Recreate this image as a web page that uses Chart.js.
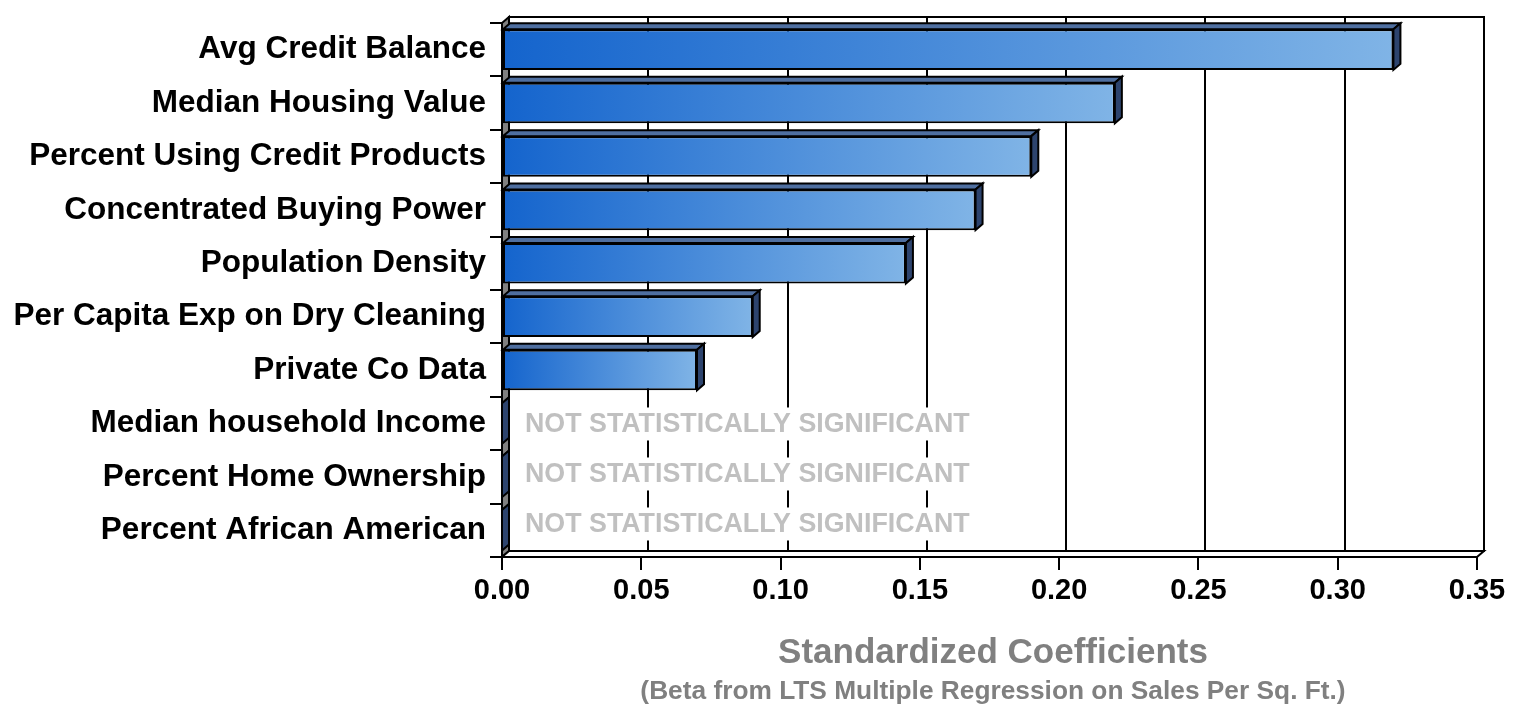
<!DOCTYPE html>
<html>
<head>
<meta charset="utf-8">
<script src="https://cdn.jsdelivr.net/npm/chart.js@4.4.1/dist/chart.umd.min.js"></script>
<style>
  html, body { margin: 0; padding: 0; background: #fff; overflow: hidden; }
  #wrap { width: 1513px; height: 705px; }
</style>
</head>
<body>
<div id="wrap"><canvas id="chart" width="1513" height="705"></canvas></div>
<script>
// Drivers of sales per square foot, ranked by standardized coefficient
const categories = [
  'Avg Credit Balance',
  'Median Housing Value',
  'Percent Using Credit Products',
  'Concentrated Buying Power',
  'Population Density',
  'Per Capita Exp on Dry Cleaning',
  'Private Co Data',
  'Median household Income',
  'Percent Home Ownership',
  'Percent African American'
];
const coefficients = [0.32, 0.22, 0.19, 0.17, 0.145, 0.09, 0.07, 0, 0, 0];
const significant = [true, true, true, true, true, true, true, false, false, false];
const xTickValues = [0, 0.05, 0.10, 0.15, 0.20, 0.25, 0.30, 0.35];
const noteText = 'NOT STATISTICALLY SIGNIFICANT';
const axisTitle = 'Standardized Coefficients';
const axisSubtitle = '(Beta from LTS Multiple Regression on Sales Per Sq. Ft.)';

const FONT = '"Liberation Sans", Arial, sans-serif';
const DX = 7, DY = -6;          // depth offset of the 3D box
const BAR_DARK = '#1464cd', BAR_LIGHT = '#80b4e6';
const TOP_FACE = '#4f6fa0', SIDE_FACE = '#2d446e', WALL_GRAY = '#808080';
const NOTE_SPACING = 50;        // line spacing of the stacked notes

function poly(ctx, pts, fill, stroke, lw) {
  ctx.beginPath();
  ctx.moveTo(pts[0][0], pts[0][1]);
  for (let i = 1; i < pts.length; i++) ctx.lineTo(pts[i][0], pts[i][1]);
  ctx.closePath();
  if (fill) { ctx.fillStyle = fill; ctx.fill(); }
  if (stroke) { ctx.strokeStyle = stroke; ctx.lineWidth = lw || 2; ctx.lineJoin = 'miter'; ctx.stroke(); }
}

// Back wall, left wall, floor and gridlines of the 3D frame
const framePlugin = {
  id: 'frame3d',
  beforeDraw(chart) {
    const { ctx, chartArea: a, scales } = chart;
    ctx.save();
    ctx.fillStyle = '#fff';
    ctx.fillRect(0, 0, chart.width, chart.height);
    // back wall
    poly(ctx, [[a.left + DX, a.top + DY], [a.right + DX, a.top + DY],
               [a.right + DX, a.bottom + DY], [a.left + DX, a.bottom + DY]], '#fff', null);
    // gridlines on back wall
    ctx.strokeStyle = '#000';
    ctx.lineWidth = 2;
    xTickValues.forEach(v => {
      const px = Math.round(scales.x.getPixelForValue(v)) + DX;
      ctx.beginPath();
      ctx.moveTo(px, a.top + DY);
      ctx.lineTo(px, a.bottom + DY);
      ctx.stroke();
    });
    poly(ctx, [[a.left + DX, a.top + DY], [a.right + DX, a.top + DY],
               [a.right + DX, a.bottom + DY], [a.left + DX, a.bottom + DY]], null, '#000', 2);
    // left wall
    poly(ctx, [[a.left, a.top], [a.left + DX, a.top + DY],
               [a.left + DX, a.bottom + DY], [a.left, a.bottom]], WALL_GRAY, '#000', 2);
    // floor
    poly(ctx, [[a.left, a.bottom], [a.left + DX, a.bottom + DY],
               [a.right + DX, a.bottom + DY], [a.right, a.bottom]], '#fff', '#000', 2);
    ctx.restore();
  },
  afterDatasetsDraw(chart) {
    const { ctx, chartArea: a, scales } = chart;
    const meta = chart.getDatasetMeta(0);
    ctx.save();
    // top and end faces of each bar
    meta.data.forEach(el => {
      const { x, y, base, height } = el.getProps(['x', 'y', 'base', 'height'], true);
      const t = y - height / 2, b = y + height / 2;
      poly(ctx, [[base, t], [base + DX, t + DY], [x + DX, t + DY], [x, t]], TOP_FACE, '#000', 2);
      poly(ctx, [[x, t], [x + DX, t + DY], [x + DX, b + DY], [x, b]], SIDE_FACE, '#000', 2);
    });
    // notes for the variables that did not enter the model, stacked from the first one
    ctx.font = 'bold 26.8px ' + FONT;
    ctx.textBaseline = 'middle';
    ctx.textAlign = 'left';
    const tx = a.left + 23;
    const first = significant.indexOf(false);
    const y0 = first >= 0 ? scales.y.getPixelForValue(first) : 0;
    let k = 0;
    categories.forEach((c, i) => {
      if (significant[i]) return;
      const cy = y0 + k * NOTE_SPACING;
      k++;
      const w = ctx.measureText(noteText).width;
      ctx.fillStyle = '#fff';
      ctx.fillRect(tx - 6, cy - 16, w + 12, 33);
      ctx.fillStyle = '#c0c0c0';
      ctx.fillText(noteText, tx, cy + 1);
    });
    ctx.restore();
  },
  afterDraw(chart) {
    const { ctx, chartArea: a } = chart;
    const cx = (a.left + a.right) / 2 + DX / 2;
    ctx.save();
    ctx.fillStyle = '#808080';
    ctx.textAlign = 'center';
    ctx.textBaseline = 'alphabetic';
    ctx.font = 'bold 35px ' + FONT;
    ctx.fillText(axisTitle, cx, a.bottom + 106);
    ctx.font = 'bold 26.3px ' + FONT;
    ctx.fillText(axisSubtitle, cx, a.bottom + 142);
    ctx.restore();
  }
};

function barGradient(c) {
  const chart = c.chart;
  const xs = chart.scales && chart.scales.x;
  if (!xs || c.type !== 'data') return BAR_DARK;
  const x0 = xs.getPixelForValue(0);
  const x1 = xs.getPixelForValue(c.raw);
  if (!isFinite(x0) || !isFinite(x1) || x1 - x0 < 1) return BAR_DARK;
  const g = chart.ctx.createLinearGradient(x0, 0, x1, 0);
  g.addColorStop(0, BAR_DARK);
  g.addColorStop(1, BAR_LIGHT);
  return g;
}

new Chart(document.getElementById('chart'), {
  type: 'bar',
  data: {
    labels: categories,
    datasets: [{
      data: coefficients,
      backgroundColor: barGradient,
      borderColor: '#000',
      borderWidth: 2,
      borderSkipped: false,
      barPercentage: 0.76,
      categoryPercentage: 1
    }]
  },
  options: {
    indexAxis: 'y',
    responsive: false,
    animation: false,
    devicePixelRatio: 1,
    layout: { padding: { top: 17, right: 36, bottom: 0, left: 0 } },
    plugins: { legend: { display: false }, tooltip: { enabled: false } },
    scales: {
      x: {
        min: 0,
        max: 0.35,
        afterBuildTicks: s => { s.ticks = xTickValues.map(v => ({ value: v })); },
        afterFit: s => { s.height = 148; },
        ticks: {
          callback: v => Number(v).toFixed(2),
          font: { family: FONT, size: 29, weight: 'bold' },
          color: '#000',
          padding: 4,
          maxRotation: 0,
          autoSkip: false
        },
        grid: { drawOnChartArea: false, drawTicks: true, tickLength: 13, color: '#000', lineWidth: 2 },
        border: { display: true, color: '#000', width: 2 }
      },
      y: {
        afterFit: s => { s.width = 502; },
        ticks: {
          font: { family: FONT, size: 31.5, weight: 'bold' },
          color: '#000',
          padding: 4,
          autoSkip: false
        },
        grid: { drawOnChartArea: false, drawTicks: true, tickLength: 12, color: '#000', lineWidth: 2, offset: true },
        border: { display: true, color: '#000', width: 2 }
      }
    }
  },
  plugins: [framePlugin]
});
</script>
</body>
</html>
